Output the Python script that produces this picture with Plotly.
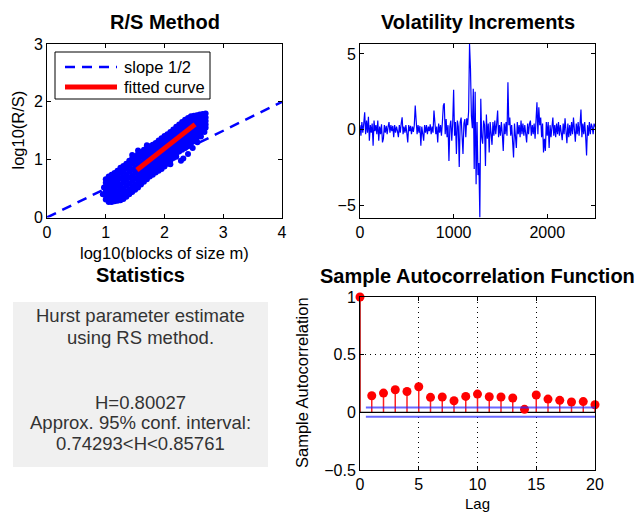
import plotly.graph_objects as go

W, H = 640, 512

# ---------------- Panel 1: R/S scatter (columns of log10(m) with R/S values) -------------
rs_x_cols = [1.00, 1.05, 1.10, 1.15, 1.20, 1.25, 1.30, 1.35, 1.40, 1.45, 1.50, 1.55,
             1.60, 1.65, 1.70, 1.75, 1.80, 1.85, 1.90, 1.95, 2.00, 2.05, 2.10, 2.15,
             2.20, 2.25, 2.30, 2.35, 2.40, 2.45, 2.50, 2.55, 2.60, 2.65, 2.70]
rs_y_cols = [
    [0.31, 0.38, 0.45, 0.53, 0.60, 0.66],
    [0.27, 0.34, 0.42, 0.50, 0.58, 0.65, 0.71],
    [0.27, 0.33, 0.41, 0.49, 0.57, 0.66, 0.74],
    [0.28, 0.36, 0.44, 0.52, 0.61, 0.70, 0.77],
    [0.29, 0.37, 0.46, 0.55, 0.64, 0.73, 0.81],
    [0.30, 0.39, 0.48, 0.57, 0.67, 0.77, 0.86],
    [0.32, 0.41, 0.50, 0.60, 0.70, 0.80, 0.89],
    [0.36, 0.45, 0.55, 0.65, 0.75, 0.85, 0.93],
    [0.40, 0.49, 0.59, 0.69, 0.79, 0.89, 0.98],
    [0.44, 0.53, 0.63, 0.73, 0.83, 0.93, 1.02],
    [0.48, 0.57, 0.67, 0.77, 0.87, 0.97, 1.06],
    [0.52, 0.61, 0.71, 0.81, 0.91, 1.01, 1.10],
    [0.57, 0.66, 0.76, 0.86, 0.95, 1.05, 1.13],
    [0.62, 0.71, 0.80, 0.90, 0.99, 1.08, 1.17],
    [0.66, 0.75, 0.84, 0.93, 1.02, 1.11, 1.20],
    [0.71, 0.79, 0.88, 0.97, 1.06, 1.15, 1.23],
    [0.74, 0.83, 0.92, 1.01, 1.09, 1.18, 1.26],
    [0.78, 0.86, 0.95, 1.04, 1.13, 1.21, 1.29],
    [0.81, 0.90, 0.99, 1.08, 1.16, 1.25, 1.33],
    [0.84, 0.93, 1.02, 1.11, 1.20, 1.29, 1.37],
    [0.88, 0.97, 1.06, 1.15, 1.24, 1.33, 1.41],
    [0.93, 1.02, 1.11, 1.19, 1.28, 1.36, 1.44],
    [0.98, 1.07, 1.15, 1.23, 1.32, 1.40, 1.48],
    [1.03, 1.11, 1.19, 1.28, 1.36, 1.44, 1.52],
    [1.10, 1.18, 1.25, 1.33, 1.41, 1.49, 1.57],
    [1.14, 1.22, 1.30, 1.38, 1.46, 1.54, 1.61],
    [1.17, 1.25, 1.34, 1.42, 1.50, 1.58, 1.65],
    [1.20, 1.29, 1.37, 1.46, 1.54, 1.62, 1.69],
    [1.24, 1.33, 1.41, 1.50, 1.58, 1.66, 1.72],
    [1.28, 1.36, 1.45, 1.53, 1.61, 1.69, 1.75],
    [1.32, 1.40, 1.48, 1.56, 1.64, 1.71, 1.76],
    [1.38, 1.46, 1.53, 1.60, 1.67, 1.73, 1.77],
    [1.45, 1.52, 1.58, 1.64, 1.70, 1.75, 1.78],
    [1.50, 1.56, 1.62, 1.68, 1.74, 1.79],
    [1.55, 1.61, 1.67, 1.73, 1.80],
]
rs_out_x = [0.95, 0.97, 2.32, 2.40, 2.48, 2.56, 2.28, 2.62, 1.55, 2.10, 1.45, 1.70, 2.20, 2.68]
rs_out_y = [0.40, 0.52, 1.02, 1.10, 1.20, 1.30, 0.98, 1.40, 1.16, 0.92, 1.08, 1.25, 1.05, 1.48]

slope_half_x = [0, 4]
slope_half_y = [0, 2]
fit_x = [1.53, 2.52]
fit_y = [0.82, 1.61]

# ---------------- Panel 2: volatility increments ----------------
vol_step = 10
vol_values = [
    0.3, -0.4, 0.5, -0.2, 0.4, 1.15, -0.3, 0.6, -0.2, 0.86,
    -0.73, 0.3, -0.2, 0.4, -1.06, 0.6, -0.1, 0.3, -0.3, 0.6,
    -0.73, 0.2, -0.3, 0.35, -0.84, -0.6, 0.3, -0.2, 0.25, -0.3,
    0.2, 0.5, -0.2, 0.3, -0.1, 0.25, -0.5, 0.3, -0.2, 0.2,
    -0.1, -0.5, 0.3, -0.2, 0.4, 0.82, -0.3, 0.2, -0.2, 0.3,
    -0.2, -0.84, 0.3, -0.1, 0.25, -0.3, 0.2, -0.15, 0.3, 1.59,
    0.6, -0.3, 0.3, -0.2, 0.25, -1.06, 0.2, -0.3, -0.73, 0.3,
    -0.2, 0.3, -0.3, 0.2, -0.1, 0.35, -0.3, 0.2, -0.2, 1.26,
    0.3, -0.3, 0.2, -0.84, 0.4, -0.2, 0.3, -0.4, 0.5, 1.59,
    1.75, -0.3, 0.7, -0.5, 0.3, -2.06, 0.2, 0.6, -0.73, 0.4,
    2.63, -0.4, 0.5, -1.6, 0.6, 0.2, -2.46, 0.5, 0.8, -0.5,
    -1.6, 0.4, 0.7, -0.5, 0.75, 0.3, 1.2, 5.66, 4.03, 0.9,
    0.1, 2.7, -2.6, 2.5, -3.6, 0.5, -3.0, -2.2, -5.8, 2.05,
    -0.5, -0.93, 0.6, 0.3, -2.4, 1.0, -0.6, 0.4, -1.5, 0.5,
    -0.6, -1.0, 0.5, -0.4, 0.6, -0.3, 0.4, 1.26, -0.5, 0.3,
    -0.4, 0.5, -0.3, -1.4, 0.4, -0.3, 0.5, -0.4, 3.14, 0.3,
    0.8, -0.4, 0.3, -0.5, -1.84, 0.4, -0.3, -1.2, 0.5, -0.3,
    0.3, -0.5, 0.6, -0.3, 0.4, -0.4, 0.3, -0.2, -0.84, 0.4,
    -0.3, 0.4, 0.6, -0.4, 0.3, -0.3, 0.4, -0.6, 0.3, 1.81,
    -0.3, 1.48, 0.3, 0.8, -0.5, 0.4, -1.5, -0.6, -1.4, 0.5,
    -0.4, 0.5, -1.2, 0.3, -0.5, 0.4, 0.8, -0.4, 0.3, -0.5,
    0.4, -0.3, 0.5, -0.4, 0.3, -0.2, -0.7, 0.4, -0.3, 0.75,
    -0.3, -0.9, 0.4, -0.5, 0.3, -0.4, 0.5, -0.3, 0.8, -0.4,
    -0.8, 0.4, -0.3, 0.5, -0.4, 0.3, 1.33, -0.5, 0.4, -0.3,
    0.5, -0.4, -1.7, 0.3, -0.4, 0.5, -0.3, 0.4, 0.2, -0.3,
    0.4, 0.2,
]
vol_x = [i * vol_step for i in range(len(vol_values))]

# ---------------- Panel 3: statistics text ----------------
stats_lines_top = ["Hurst parameter estimate", "using RS method."]
stats_lines_bottom = ["H=0.80027", "Approx. 95% conf. interval:", "0.74293<H<0.85761"]

# ---------------- Panel 4: sample ACF ----------------
acf_lags = list(range(21))
acf_values = [1.0, 0.144, 0.167, 0.196, 0.181, 0.222, 0.130, 0.133, 0.100, 0.138,
              0.158, 0.135, 0.133, 0.124, 0.026, 0.150, 0.115, 0.104, 0.090, 0.093, 0.066]
acf_bounds = [0.042, -0.038]
acf_bound_x = [0.5, 20]

FONT = "Liberation Sans, Arial, sans-serif"

fig = go.Figure()

# Panel 1
sx, sy = [], []
for xv, ys in zip(rs_x_cols, rs_y_cols):
    for yv in ys:
        sx.append(xv)
        sy.append(yv)
sx += rs_out_x
sy += rs_out_y
fig.add_trace(go.Scatter(x=sx, y=sy, mode="markers", xaxis="x", yaxis="y",
                         marker=dict(color="#0000ff", size=6, line=dict(width=0)),
                         showlegend=False, hoverinfo="skip"))
fig.add_trace(go.Scatter(x=slope_half_x, y=slope_half_y, mode="lines", xaxis="x", yaxis="y",
                         line=dict(color="#0000ff", width=2.5, dash="10px,7px"), showlegend=False))
fig.add_trace(go.Scatter(x=fit_x, y=fit_y, mode="lines", xaxis="x", yaxis="y",
                         line=dict(color="#ff0000", width=5), showlegend=False))

# Panel 2
fig.add_trace(go.Scatter(x=vol_x, y=vol_values, mode="lines", xaxis="x2", yaxis="y2",
                         line=dict(color="#0000ff", width=1.2), showlegend=False))

# Panel 4 stems
stem_x, stem_y = [], []
for lg, v in zip(acf_lags[1:], acf_values[1:]):
    stem_x += [lg, lg, None]
    stem_y += [0, v, None]
fig.add_trace(go.Scatter(x=stem_x, y=stem_y, mode="lines", xaxis="x4", yaxis="y4",
                         line=dict(color="#ff2020", width=1.5), showlegend=False))
fig.add_trace(go.Scatter(x=[acf_lags[0], acf_lags[0]], y=[0, acf_values[0]], mode="lines",
                         xaxis="x4", yaxis="y4", line=dict(color="#b00000", width=1.5),
                         showlegend=False, cliponaxis=False))
fig.add_trace(go.Scatter(x=[0, 20], y=[0, 0], mode="lines", xaxis="x4", yaxis="y4",
                         line=dict(color="#000000", width=1.2), showlegend=False))
fig.add_trace(go.Scatter(x=acf_lags, y=acf_values, mode="markers", xaxis="x4", yaxis="y4",
                         marker=dict(color="#ff0000", size=9, line=dict(width=0)),
                         showlegend=False, cliponaxis=False))
for b in acf_bounds:
    fig.add_trace(go.Scatter(x=acf_bound_x, y=[b, b], mode="lines", xaxis="x4", yaxis="y4",
                             line=dict(color="rgba(40,40,255,0.7)", width=2), showlegend=False))

axis_common = dict(showline=True, linecolor="#000000", linewidth=1, mirror="ticks",
                   ticks="inside", ticklen=4, tickcolor="#000000", showgrid=False,
                   zeroline=False, automargin=False,
                   tickfont=dict(family=FONT, size=16, color="#000000"))
grid_common = {**axis_common, "showgrid": True, "gridcolor": "#000000",
               "griddash": "1px,4px", "gridwidth": 1}

def px_x(p):
    return p / W

def px_y(p):
    return 1 - p / H

fig.update_layout(
    width=W, height=H, margin=dict(l=0, r=0, t=0, b=0, pad=0, autoexpand=False),
    paper_bgcolor="#ffffff", plot_bgcolor="#ffffff", showlegend=False,
    font=dict(family=FONT, color="#000000"),
    xaxis=dict(domain=[px_x(47), px_x(282)], range=[0, 4], tickvals=[0, 1, 2, 3, 4],
               anchor="y", **axis_common),
    yaxis=dict(domain=[px_y(217.5), px_y(44)], range=[0, 3], tickvals=[0, 1, 2, 3],
               anchor="x", **axis_common),
    xaxis2=dict(domain=[px_x(360), px_x(595)], range=[0, 2510], tickvals=[0, 1000, 2000],
                anchor="y2", **axis_common),
    yaxis2=dict(domain=[px_y(217.5), px_y(44)], range=[-5.8, 5.66], tickvals=[-5, 0, 5],
                ticktext=["\u22125", "0", "5"], anchor="x2", **axis_common),
    xaxis4=dict(domain=[px_x(360), px_x(595)], range=[0, 20], tickvals=[0, 5, 10, 15, 20],
                anchor="y4", **grid_common),
    yaxis4=dict(domain=[px_y(470), px_y(297)], range=[-0.5, 1], tickvals=[-0.5, 0, 0.5, 1],
                ticktext=["\u22120.5", "0", "0.5", "1"], anchor="x4", **grid_common),
)

shapes = []
# Legend box panel 1
shapes.append(dict(type="rect", xref="paper", yref="paper",
                   x0=px_x(55), x1=px_x(210), y0=px_y(99), y1=px_y(52),
                   line=dict(color="#000000", width=1), fillcolor="#ffffff"))
shapes.append(dict(type="line", xref="paper", yref="paper",
                   x0=px_x(65), x1=px_x(117), y0=px_y(67), y1=px_y(67),
                   line=dict(color="#0000ff", width=2.5, dash="10px,7px")))
shapes.append(dict(type="line", xref="paper", yref="paper",
                   x0=px_x(65), x1=px_x(117), y0=px_y(87), y1=px_y(87),
                   line=dict(color="#ff0000", width=5)))
# Statistics box
shapes.append(dict(type="rect", xref="paper", yref="paper", layer="below",
                   x0=px_x(13), x1=px_x(268), y0=px_y(467), y1=px_y(302),
                   line=dict(width=0), fillcolor="#f0f0f0"))
fig.update_layout(shapes=shapes)

ann = []

def text(x, y, s, size=15, bold=False, xanchor="center", angle=0, color="#000000"):
    ann.append(dict(xref="paper", yref="paper", x=px_x(x), y=px_y(y), text=(f"<b>{s}</b>" if bold else s),
                    showarrow=False, xanchor=xanchor, yanchor="middle", textangle=angle,
                    font=dict(family=FONT, size=size, color=color)))

# legend text
text(122, 67, "slope 1/2", size=16.5, xanchor="left")
text(122, 87, "fitted curve", size=16.5, xanchor="left")
# titles
text(164.5, 22, "R/S Method", size=20, bold=True)
text(477.5, 22, "Volatility Increments", size=20, bold=True)
text(140, 275, "Statistics", size=20, bold=True)
text(477.5, 276, "Sample Autocorrelation Function", size=20, bold=True)
# axis labels
text(164.5, 253, "log10(blocks of size m)", size=16.5)
text(17, 130.5, "log10(R/S)", size=16.5, angle=-90)
text(302, 383, "Sample Autocorrelation", size=16.5, angle=-90)
text(477.5, 503.5, "Lag", size=15)
# stats text
for i, s in enumerate(stats_lines_top):
    text(140.5, 315 + 22 * i, s, size=18.5, color="#333333")
for i, s in enumerate(stats_lines_bottom):
    text(140.5, 402 + 20.5 * i, s, size=18.5, color="#333333")

fig.update_layout(annotations=ann)

fig.write_html("out.html")
